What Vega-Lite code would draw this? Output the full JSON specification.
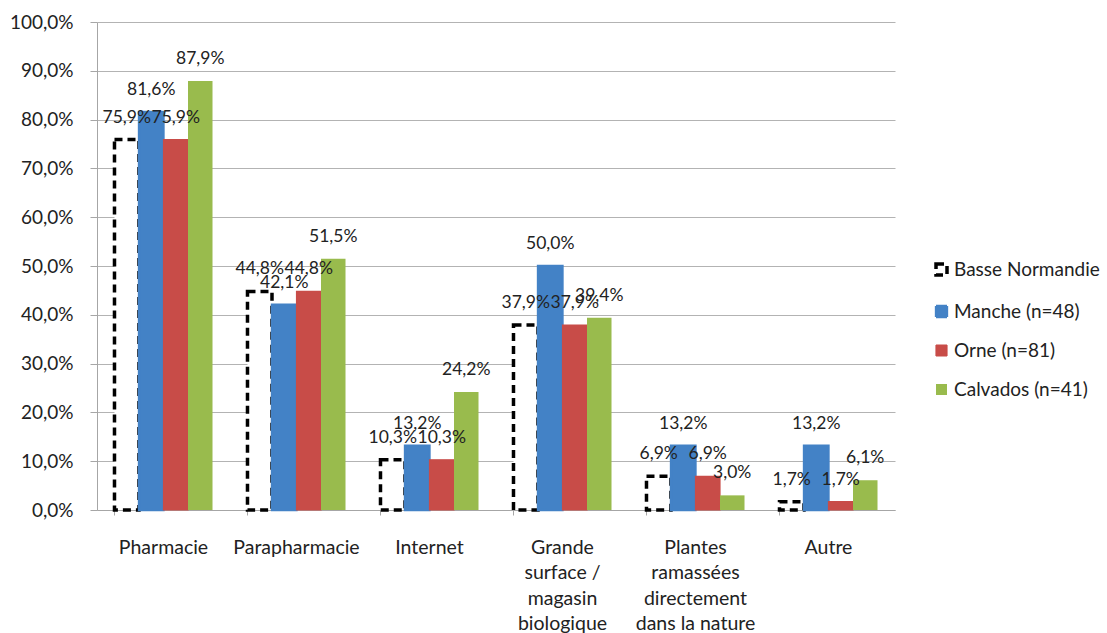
{
  "$schema": "https://vega.github.io/schema/vega-lite/v6.json",
  "width": 798,
  "height": 488,
  "autosize": {"type": "none"},
  "padding": {"left": 97, "top": 22, "right": 212, "bottom": 123},
  "background": "white",
  "config": {
    "locale": {"number": {"decimal": ",", "thousands": " ", "grouping": [3], "currency": ["", " €"]}},
    "view": {"stroke": null},
    "font": "Lato"
  },
  "data": {
    "values": [
      {"cat": "Pharmacie", "serie": "Basse Normandie", "v": 0.759},
      {"cat": "Pharmacie", "serie": "Manche (n=48)", "v": 0.816},
      {"cat": "Pharmacie", "serie": "Orne (n=81)", "v": 0.759},
      {"cat": "Pharmacie", "serie": "Calvados (n=41)", "v": 0.879},
      {"cat": "Parapharmacie", "serie": "Basse Normandie", "v": 0.448},
      {"cat": "Parapharmacie", "serie": "Manche (n=48)", "v": 0.421},
      {"cat": "Parapharmacie", "serie": "Orne (n=81)", "v": 0.448},
      {"cat": "Parapharmacie", "serie": "Calvados (n=41)", "v": 0.515},
      {"cat": "Internet", "serie": "Basse Normandie", "v": 0.103},
      {"cat": "Internet", "serie": "Manche (n=48)", "v": 0.132},
      {"cat": "Internet", "serie": "Orne (n=81)", "v": 0.103},
      {"cat": "Internet", "serie": "Calvados (n=41)", "v": 0.242},
      {"cat": "Grande surface / magasin biologique", "serie": "Basse Normandie", "v": 0.379},
      {"cat": "Grande surface / magasin biologique", "serie": "Manche (n=48)", "v": 0.5},
      {"cat": "Grande surface / magasin biologique", "serie": "Orne (n=81)", "v": 0.379},
      {"cat": "Grande surface / magasin biologique", "serie": "Calvados (n=41)", "v": 0.394},
      {"cat": "Plantes ramassées directement dans la nature", "serie": "Basse Normandie", "v": 0.069},
      {"cat": "Plantes ramassées directement dans la nature", "serie": "Manche (n=48)", "v": 0.132},
      {"cat": "Plantes ramassées directement dans la nature", "serie": "Orne (n=81)", "v": 0.069},
      {"cat": "Plantes ramassées directement dans la nature", "serie": "Calvados (n=41)", "v": 0.03},
      {"cat": "Autre", "serie": "Basse Normandie", "v": 0.017},
      {"cat": "Autre", "serie": "Manche (n=48)", "v": 0.132},
      {"cat": "Autre", "serie": "Orne (n=81)", "v": 0.017},
      {"cat": "Autre", "serie": "Calvados (n=41)", "v": 0.061}
    ]
  },
  "encoding": {
    "x": {
      "field": "cat",
      "type": "nominal",
      "sort": null,
      "scale": {"paddingInner": 0.263, "paddingOuter": 0.1315},
      "axis": {
        "title": null,
        "labelAngle": 0,
        "bandPosition": 0,
        "domainColor": "#a6a6a6",
        "tickColor": "#a6a6a6",
        "tickSize": 5,
        "labelFontSize": 19.5,
        "labelColor": "#222222",
        "labelPadding": 32,
        "labelLineHeight": 25.5,
        "labelBaseline": "middle",
        "labelExpr": "datum.value == 'Grande surface / magasin biologique' ? ['Grande', 'surface /', 'magasin', 'biologique'] : datum.value == 'Plantes ramassées directement dans la nature' ? ['Plantes', 'ramassées', 'directement', 'dans la nature'] : datum.value"
      }
    },
    "xOffset": {
      "field": "serie",
      "type": "nominal",
      "sort": ["Basse Normandie", "Manche (n=48)", "Orne (n=81)", "Calvados (n=41)"],
      "scale": {"paddingInner": 0, "paddingOuter": 0}
    },
    "y": {
      "field": "v",
      "type": "quantitative",
      "scale": {"domain": [0, 1], "nice": false},
      "axis": {
        "title": null,
        "values": [0, 0.1, 0.2, 0.3, 0.4, 0.5, 0.6, 0.7, 0.8, 0.9, 1],
        "format": ".1%",
        "grid": true,
        "gridColor": "#b3b3b3",
        "domainColor": "#a6a6a6",
        "tickColor": "#a6a6a6",
        "tickSize": 7,
        "labelFontSize": 19,
        "labelColor": "#222222",
        "labelPadding": 17
      }
    }
  },
  "layer": [
    {
      "mark": {"type": "bar"},
      "encoding": {
        "color": {
          "field": "serie",
          "type": "nominal",
          "sort": ["Basse Normandie", "Manche (n=48)", "Orne (n=81)", "Calvados (n=41)"],
          "scale": {
            "domain": ["Basse Normandie", "Manche (n=48)", "Orne (n=81)", "Calvados (n=41)"],
            "range": ["#ffffff", "#4382c6", "#c84c48", "#99bb4d"]
          },
          "legend": {
            "title": null,
            "orient": "none",
            "legendX": 835,
            "legendY": 238,
            "symbolType": "square",
            "symbolSize": 121,
            "labelFontSize": 19,
            "labelColor": "#222222",
            "labelOffset": 3,
            "rowPadding": 19
          }
        },
        "stroke": {
          "field": "serie",
          "type": "nominal",
          "scale": {
            "domain": ["Basse Normandie", "Manche (n=48)", "Orne (n=81)", "Calvados (n=41)"],
            "range": ["#000000", "#4382c6", "#c84c48", "#99bb4d"]
          }
        },
        "strokeWidth": {
          "field": "serie",
          "type": "nominal",
          "scale": {
            "domain": ["Basse Normandie", "Manche (n=48)", "Orne (n=81)", "Calvados (n=41)"],
            "range": [3.5, 0, 0, 0]
          }
        },
        "strokeDash": {
          "field": "serie",
          "type": "nominal",
          "scale": {
            "domain": ["Basse Normandie", "Manche (n=48)", "Orne (n=81)", "Calvados (n=41)"],
            "range": [[8, 5], [1, 0], [1, 0], [1, 0]]
          }
        }
      }
    },
    {
      "mark": {"type": "text", "dy": -22, "baseline": "middle", "fontSize": 17.5, "color": "#222222"},
      "encoding": {
        "text": {"field": "v", "type": "quantitative", "format": ".1%"}
      }
    }
  ]
}
